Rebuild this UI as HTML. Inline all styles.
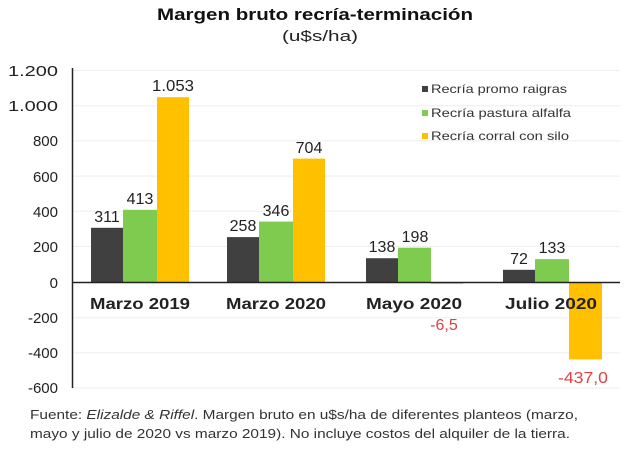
<!DOCTYPE html><html><head><style>body{margin:0;background:#fff}svg{display:block}text{font-family:"Liberation Sans",sans-serif}</style></head><body>
<svg width="640" height="449" viewBox="0 0 640 449">
<text x="157" y="20" font-size="17" font-weight="bold" fill="#111" textLength="316" lengthAdjust="spacingAndGlyphs">Margen bruto recría-terminación</text>
<text x="282" y="41" font-size="15" fill="#222" textLength="76" lengthAdjust="spacingAndGlyphs">(u$s/ha)</text>
<g stroke="#eee" stroke-width="1">
<line x1="72" y1="70.5" x2="620" y2="70.5"/><line x1="72" y1="105.7" x2="620" y2="105.7"/><line x1="72" y1="140.9" x2="620" y2="140.9"/><line x1="72" y1="176.1" x2="620" y2="176.1"/><line x1="72" y1="211.3" x2="620" y2="211.3"/><line x1="72" y1="246.5" x2="620" y2="246.5"/><line x1="72" y1="317.7" x2="620" y2="317.7"/><line x1="72" y1="352.9" x2="620" y2="352.9"/><line x1="72" y1="388" x2="620" y2="388"/>
</g>
<g font-size="15" text-anchor="end" fill="#222">
<text x="58" y="76" textLength="50" lengthAdjust="spacingAndGlyphs">1.200</text><text x="58" y="111" textLength="50" lengthAdjust="spacingAndGlyphs">1.000</text><text x="58" y="146">800</text><text x="58" y="182">600</text><text x="58" y="217">400</text><text x="58" y="252">200</text><text x="58" y="288">0</text><text x="58" y="323">-200</text><text x="58" y="358">-400</text><text x="58" y="393">-600</text>
</g>
<g>
<rect x="91" y="227.8" width="32" height="54.7" fill="#404040"/><rect x="123" y="209.8" width="34" height="72.7" fill="#7fcb4f"/><rect x="157" y="97.2" width="32" height="185.3" fill="#ffc000"/>
<rect x="227" y="237.1" width="32" height="45.4" fill="#404040"/><rect x="259" y="221.6" width="34" height="60.9" fill="#7fcb4f"/><rect x="293" y="158.6" width="32" height="123.9" fill="#ffc000"/>
<rect x="366" y="258.2" width="32" height="24.3" fill="#404040"/><rect x="398" y="247.7" width="33" height="34.8" fill="#7fcb4f"/><rect x="431" y="282.5" width="32" height="1.3" fill="#ffc000"/>
<rect x="503" y="269.8" width="32" height="12.7" fill="#404040"/><rect x="535" y="259.1" width="34" height="23.4" fill="#7fcb4f"/><rect x="569" y="282.5" width="33" height="76.9" fill="#ffc000"/>
</g>
<line x1="72" y1="282.5" x2="620" y2="282.5" stroke="#222" stroke-width="1.5"/>
<line x1="72.5" y1="68" x2="72.5" y2="388" stroke="#222" stroke-width="1.5"/>
<g font-size="16" text-anchor="middle" fill="#222">
<text x="107" y="222">311</text><text x="140" y="204">413</text><text x="173" y="91" textLength="42" lengthAdjust="spacingAndGlyphs">1.053</text>
<text x="243" y="231">258</text><text x="276" y="216">346</text><text x="309" y="153">704</text>
<text x="382" y="252">138</text><text x="415" y="242">198</text>
<text x="519" y="264">72</text><text x="552" y="253">133</text>
<text x="444" y="330" fill="#e04040">-6,5</text><text x="583" y="383" fill="#e04040" textLength="50" lengthAdjust="spacingAndGlyphs">-437,0</text>
</g>
<g font-size="16" font-weight="bold" text-anchor="middle" fill="#222">
<text x="140" y="309" textLength="100" lengthAdjust="spacingAndGlyphs">Marzo 2019</text><text x="276" y="309" textLength="100" lengthAdjust="spacingAndGlyphs">Marzo 2020</text><text x="414" y="309" textLength="96" lengthAdjust="spacingAndGlyphs">Mayo 2020</text><text x="551" y="309" textLength="92" lengthAdjust="spacingAndGlyphs">Julio 2020</text>
</g>
<g font-size="12" fill="#333">
<rect x="422" y="86" width="6" height="6" fill="#404040"/><text x="431" y="93" textLength="136" lengthAdjust="spacingAndGlyphs">Recría promo raigras</text>
<rect x="422" y="110" width="6" height="6" fill="#7fcb4f"/><text x="431" y="117" textLength="140" lengthAdjust="spacingAndGlyphs">Recría pastura alfalfa</text>
<rect x="422" y="133" width="6" height="6" fill="#ffc000"/><text x="431" y="140" textLength="138" lengthAdjust="spacingAndGlyphs">Recría corral con silo</text>
</g>
<g font-size="13" fill="#333">
<text x="30" y="419" textLength="548" lengthAdjust="spacingAndGlyphs">Fuente: <tspan font-style="italic">Elizalde &amp; Riffel</tspan>. Margen bruto en u$s/ha de diferentes planteos (marzo,</text>
<text x="30" y="438" textLength="540" lengthAdjust="spacingAndGlyphs">mayo y julio de 2020 vs marzo 2019). No incluye costos del alquiler de la tierra.</text>
</g>
</svg></body></html>
